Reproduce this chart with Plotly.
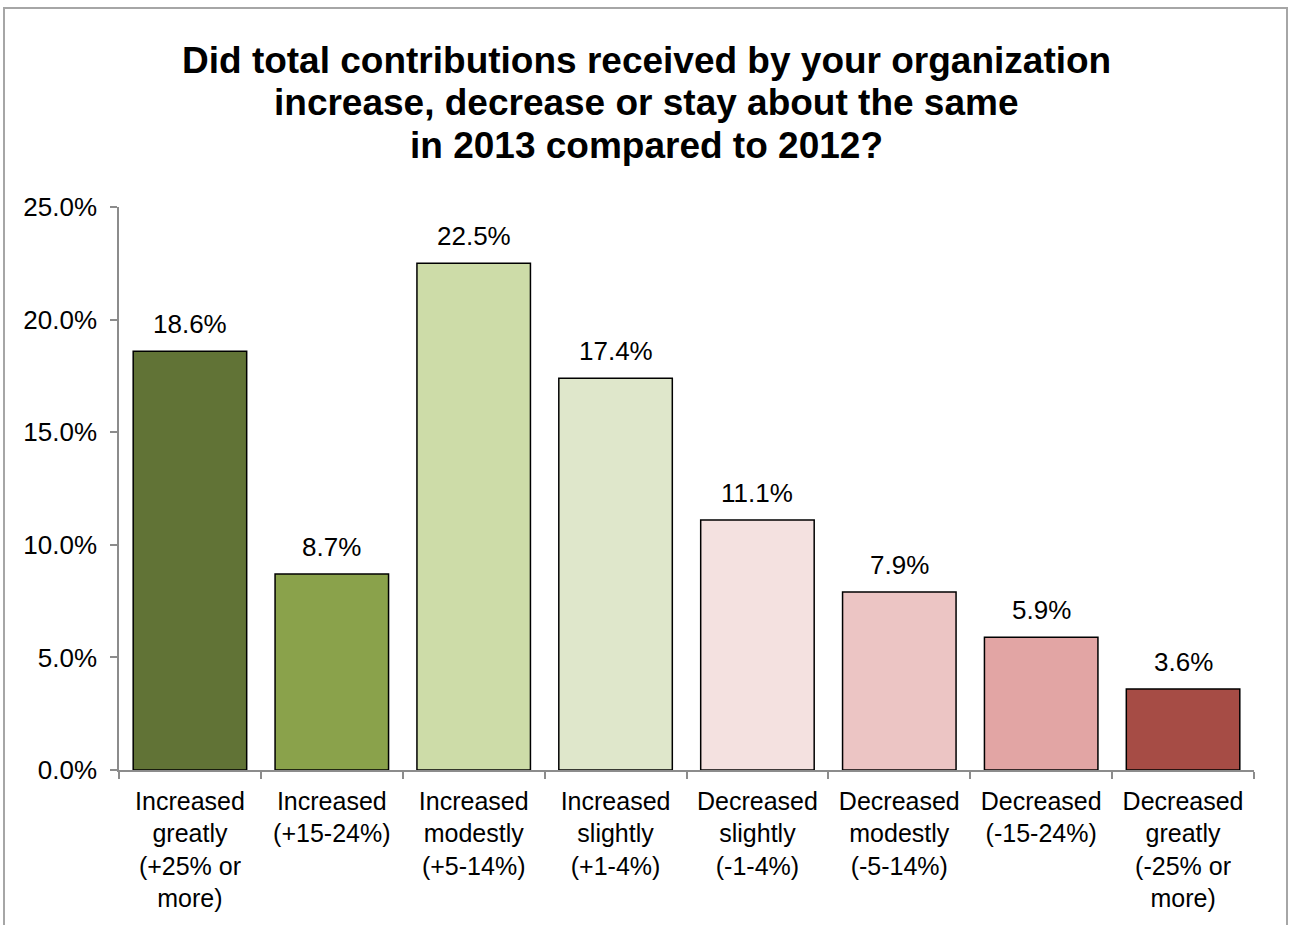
import plotly.graph_objects as go

categories = [
    "Increased<br>greatly<br>(+25% or<br>more)",
    "Increased<br>(+15-24%)",
    "Increased<br>modestly<br>(+5-14%)",
    "Increased<br>slightly<br>(+1-4%)",
    "Decreased<br>slightly<br>(-1-4%)",
    "Decreased<br>modestly<br>(-5-14%)",
    "Decreased<br>(-15-24%)",
    "Decreased<br>greatly<br>(-25% or<br>more)",
]
values = [18.6, 8.7, 22.5, 17.4, 11.1, 7.9, 5.9, 3.6]
bar_colors = ["#617336", "#8aa24b", "#cddca8", "#dfe7cb",
              "#f4e1e0", "#ecc5c4", "#e2a5a4", "#a64c45"]
y_ticks = [0, 5, 10, 15, 20, 25]
title_lines = [
    "Did total contributions received by your organization",
    "increase, decrease or stay about the same",
    "in 2013 compared to 2012?",
]

FONT = "Liberation Sans, Arial, Helvetica, sans-serif"
TXT = 26

fig = go.Figure(go.Bar(
    x=categories,
    y=values,
    marker=dict(color=bar_colors, line=dict(color="#000000", width=1.5)),
    width=0.8,
    hoverinfo="skip",
))

# value labels above each bar
for c, v in zip(categories, values):
    fig.add_annotation(x=c, y=v, text=f"{v:.1f}%", showarrow=False,
                       yanchor="bottom", yshift=10,
                       font=dict(family=FONT, size=TXT, color="#000000"))

L, R, T, B = 119, 36, 207, 155
W, H = 1290, 925
pw, ph = W - L - R, H - T - B

# title, one annotation per line for tight line spacing
for i, line in enumerate(title_lines):
    fig.add_annotation(xref="paper", yref="paper",
                       x=(646 - L) / pw, y=(H - B - (60 + 42.5 * i)) / ph,
                       xanchor="center", yanchor="middle", showarrow=False,
                       text=f"<b>{line}</b>",
                       font=dict(family=FONT, size=37, color="#000000"))

# outer frame around the chart
fig.add_shape(type="rect", xref="paper", yref="paper",
              x0=(4 - L) / pw, x1=(1287 - L) / pw,
              y0=(H - B - 935) / ph, y1=(H - B - 8) / ph,
              line=dict(color="#a6a6a6", width=2), fillcolor="rgba(0,0,0,0)",
              layer="below")

fig.update_layout(
    width=W, height=H,
    margin=dict(l=L, r=R, t=T, b=B),
    paper_bgcolor="white", plot_bgcolor="white",
    showlegend=False,
    font=dict(family=FONT, size=TXT, color="#000000"),
    xaxis=dict(
        type="category", automargin=False,
        showline=True, linecolor="#8c8c8c", linewidth=1.5,
        ticks="outside", ticklen=7, tickcolor="#8c8c8c", tickwidth=1.5,
        tickson="boundaries", ticklabelstandoff=8,
        tickfont=dict(family=FONT, size=25, color="#000000"),
        showgrid=False, zeroline=False,
    ),
    yaxis=dict(
        range=[0, 25], automargin=False,
        tickvals=y_ticks,
        ticktext=[f"{t:.1f}%" for t in y_ticks],
        showline=True, linecolor="#8c8c8c", linewidth=1.5,
        ticks="outside", ticklen=7, tickcolor="#8c8c8c", tickwidth=1.5,
        ticklabelstandoff=8,
        tickfont=dict(family=FONT, size=TXT, color="#000000"),
        showgrid=False, zeroline=False,
    ),
)

fig.write_html("out.html")
